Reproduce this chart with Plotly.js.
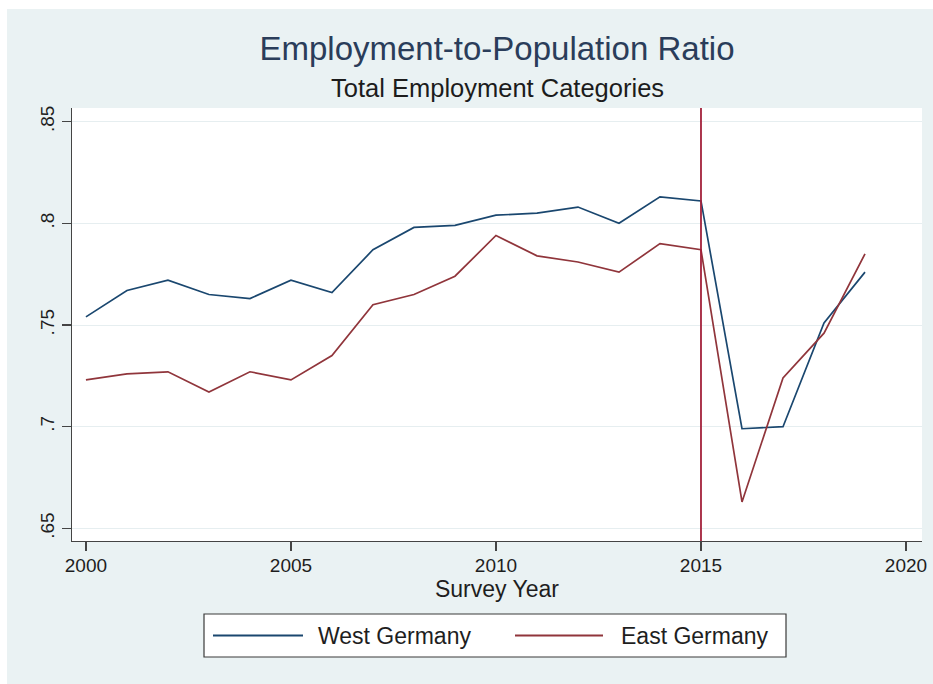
<!DOCTYPE html>
<html>
<head>
<meta charset="utf-8">
<script src="https://cdn.plot.ly/plotly-3.0.1.min.js"></script>
<style>
html,body{margin:0;padding:0;background:#ffffff;width:933px;height:684px;overflow:hidden}
#chart{position:absolute;left:7px;top:9px;width:926px;height:675px}
</style>
</head>
<body>
<div id="chart"></div>
<script>
// ---- data ----
const years = [2000,2001,2002,2003,2004,2005,2006,2007,2008,2009,2010,2011,2012,2013,2014,2015,2016,2017,2018,2019];
const westGermany = [0.754,0.767,0.772,0.765,0.763,0.772,0.766,0.787,0.798,0.799,0.804,0.805,0.808,0.800,0.813,0.811,0.699,0.700,0.751,0.776];
const eastGermany = [0.723,0.726,0.727,0.717,0.727,0.723,0.735,0.760,0.765,0.774,0.794,0.784,0.781,0.776,0.790,0.787,0.663,0.724,0.746,0.785];
const seriesNames = ['West Germany','East Germany'];
const xTickVals = [2000,2005,2010,2015,2020];
const yTickVals = [0.65,0.70,0.75,0.80,0.85];
const yTickText = ['.65','.7','.75','.8','.85'];
const markerYear = 2015;

// ---- styling ----
const westColor = '#1a476f';
const eastColor = '#90353b';
const vlineColor = '#a3203a';
const bg = '#eaf2f3';
const FONT = 'Liberation Sans, Arial, Helvetica, sans-serif';

// plot area in page pixels: x 72..922, y 108..541 ; div offset (7,9)
const PX = {l:72, r:922, t:108, b:541};
const px2x = p => (p - PX.l) / (PX.r - PX.l);
const px2y = p => (PX.b - p) / (PX.b - PX.t);

const traces = [
  {x: years, y: westGermany, name: seriesNames[0], type: 'scatter', mode: 'lines',
   line: {color: westColor, width: 1.7}},
  {x: years, y: eastGermany, name: seriesNames[1], type: 'scatter', mode: 'lines',
   line: {color: eastColor, width: 1.7}}
];

// custom legend box (Stata style)
const legY = px2y(635.5);
const shapes = [
  {type:'line', xref:'x', yref:'paper', x0:markerYear, x1:markerYear, y0:0, y1:1,
   line:{color:vlineColor, width:1.8}, layer:'above'},
  {type:'rect', xref:'paper', yref:'paper', x0:px2x(204), x1:px2x(786), y0:px2y(657), y1:px2y(614),
   fillcolor:'#ffffff', line:{color:'#3a3a3a', width:1.2}, layer:'above'},
  {type:'line', xref:'paper', yref:'paper', x0:px2x(213), x1:px2x(303), y0:legY, y1:legY,
   line:{color:westColor, width:1.8}},
  {type:'line', xref:'paper', yref:'paper', x0:px2x(515), x1:px2x(603), y0:legY, y1:legY,
   line:{color:eastColor, width:1.8}}
];
const annotations = [
  {xref:'paper', yref:'paper', x:0.5, y:px2y(88), xanchor:'center', yanchor:'middle',
   text:'Total Employment Categories', showarrow:false, font:{family:FONT, size:25.5, color:'#1c1c1c'}},
  {xref:'paper', yref:'paper', x:px2x(316), y:legY, xanchor:'left', yanchor:'middle',
   text:seriesNames[0], showarrow:false, font:{family:FONT, size:23, color:'#1e1e1e'}},
  {xref:'paper', yref:'paper', x:px2x(619), y:legY, xanchor:'left', yanchor:'middle',
   text:seriesNames[1], showarrow:false, font:{family:FONT, size:23, color:'#1e1e1e'}}
];

const layout = {
  width: 926, height: 675,
  paper_bgcolor: bg, plot_bgcolor: '#ffffff',
  margin: {l: 65, r: 11, t: 99, b: 143, pad: 0},
  font: {family: FONT, color: '#1e1e1e'},
  showlegend: false,
  title: {
    text: 'Employment-to-Population Ratio',
    font: {family: FONT, size: 33, color: '#2a3d5a'},
    x: 0.5, xref: 'paper', xanchor: 'center',
    y: 1 - 39/675, yref: 'container', yanchor: 'middle'
  },
  xaxis: {
    range: [1999.66, 2020.39],
    tickvals: xTickVals, ticks: 'outside', ticklen: 9, tickwidth: 1.2, tickcolor: '#444',
    showline: true, linecolor: '#444', linewidth: 1.2, mirror: false,
    showgrid: false, zeroline: false, ticklabelstandoff: -2,
    tickfont: {family: FONT, size: 19, color: '#1e1e1e'},
    title: {text: 'Survey Year', font: {family: FONT, size: 23, color: '#1e1e1e'}, standoff: 2}
  },
  yaxis: {
    range: [0.6438, 0.8567],
    tickvals: yTickVals, ticktext: yTickText, tickangle: -90,
    ticks: 'outside', ticklen: 9, tickwidth: 1.2, tickcolor: '#444',
    showline: true, linecolor: '#444', linewidth: 1.2,
    showgrid: true, gridcolor: '#e6eef0', gridwidth: 1, zeroline: false,
    tickfont: {family: FONT, size: 19, color: '#1e1e1e'}
  },
  shapes: shapes,
  annotations: annotations
};

Plotly.newPlot('chart', traces, layout, {displayModeBar: false, staticPlot: true});
</script>
</body>
</html>
